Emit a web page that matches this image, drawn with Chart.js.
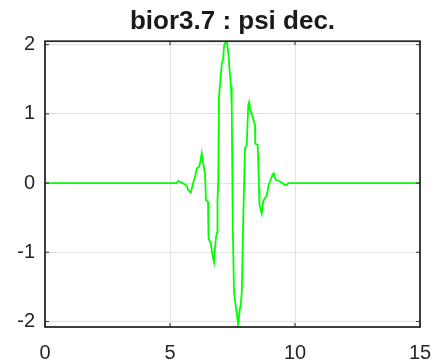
<!DOCTYPE html>
<html>
<head>
<meta charset="utf-8">
<script src="https://cdn.jsdelivr.net/npm/chart.js@4.4.1/dist/chart.umd.min.js"></script>
<style>
  html, body { margin: 0; padding: 0; background: #fff; }
  #wrap { width: 435px; height: 364px; }
</style>
</head>
<body>
<div id="wrap"><canvas id="myChart" width="435" height="364"></canvas></div>
<script>
// psi values
const xs = [0, 5.25, 5.33, 5.45, 5.6, 5.67, 5.73, 5.83, 5.91, 6.02, 6.07, 6.17, 6.22, 6.27,
  6.33, 6.4, 6.44, 6.52, 6.54, 6.63, 6.7, 6.76, 6.8, 6.84, 6.88, 6.9, 6.93, 6.96, 7.07,
  7.13, 7.16, 7.22, 7.28, 7.34, 7.37, 7.44, 7.47, 7.51, 7.56, 7.62, 7.67, 7.73, 7.78,
  7.82, 7.87, 7.93, 8.0, 8.07, 8.13, 8.17, 8.21, 8.27, 8.36, 8.4, 8.41, 8.51, 8.56, 8.58,
  8.67, 8.73, 8.8, 8.87, 8.95, 9.0, 9.1, 9.15, 9.22, 9.35, 9.5, 9.6, 9.67, 9.73, 15];
const ys = [0, 0, 0.03, 0.01, -0.02, -0.04, -0.10, -0.14, -0.02, 0.12, 0.21, 0.24, 0.32, 0.43,
  0.28, 0.14, -0.25, -0.27, -0.80, -0.87, -1.04, -1.14, -0.95, -0.78, -0.72, -0.25, 0.02, 1.25, 1.72,
  1.80, 1.98, 2.03, 2.05, 1.85, 1.68, 1.40, 1.10, -0.60, -1.58, -1.75, -1.88, -2.05, -1.85,
  -1.78, -1.59, -0.50, 0.50, 0.55, 1.13, 1.17, 1.05, 1.00, 0.88, 0.84, 0.57, 0.55, -0.08, -0.32,
  -0.44, -0.26, -0.22, -0.18, -0.02, 0.02, 0.12, 0.14, 0.05, 0.03, 0.0, -0.03, -0.03, 0, 0];
const xTicks = [0, 5, 10, 15];
const yTicks = [-2, -1, 0, 1, 2];
const titleText = "bior3.7 : psi dec.";

const points = xs.map((x, i) => ({ x: x, y: ys[i] }));

// matlab style box with inward ticks
const boxPlugin = {
  id: "box",
  afterDraw(chart) {
    const ctx = chart.ctx;
    const a = chart.chartArea;
    const sx = chart.scales.x, sy = chart.scales.y;
    ctx.save();
    ctx.strokeStyle = "#2b2b2b";
    ctx.lineWidth = 1.8;
    ctx.strokeRect(a.left, a.top, a.right - a.left, a.bottom - a.top);
    ctx.lineWidth = 1;
    ctx.beginPath();
    xTicks.forEach(v => {
      const px = sx.getPixelForValue(v);
      ctx.moveTo(px, a.bottom); ctx.lineTo(px, a.bottom - 4);
      ctx.moveTo(px, a.top); ctx.lineTo(px, a.top + 4);
    });
    yTicks.forEach(v => {
      const py = sy.getPixelForValue(v);
      ctx.moveTo(a.left, py); ctx.lineTo(a.left + 4, py);
      ctx.moveTo(a.right, py); ctx.lineTo(a.right - 4, py);
    });
    ctx.stroke();
    ctx.restore();
  }
};

new Chart(document.getElementById("myChart"), {
  type: "line",
  data: {
    datasets: [{
      data: points,
      borderColor: "#00ff00",
      borderWidth: 1.8,
      pointRadius: 0,
      tension: 0,
      fill: false,
    }],
  },
  options: {
    responsive: false,
    animation: false,
    layout: { padding: { left: 0, right: 15, top: 0, bottom: 0 } },
    plugins: {
      legend: { display: false },
      tooltip: { enabled: false },
      title: {
        display: true,
        fullSize: false,
        text: titleText,
        color: "#1a1a1a",
        font: { family: "Liberation Sans, Arial, sans-serif", size: 26, weight: "bold" },
        padding: { top: 6, bottom: 4 },
      },
    },
    scales: {
      x: {
        type: "linear",
        min: 0,
        max: 15,
        afterBuildTicks: s => { s.ticks = xTicks.map(v => ({ value: v })); },
        afterFit: s => { s.height = 37; s.paddingLeft = 0; s.paddingRight = 0; },
        grid: { color: "#e2e2e2", drawTicks: false },
        border: { display: false },
        ticks: {
          color: "#262626",
          padding: 14,
          maxRotation: 0,
          font: { family: "Liberation Sans, Arial, sans-serif", size: 20 },
        },
      },
      y: {
        type: "linear",
        min: -2.08,
        max: 2.05,
        afterBuildTicks: s => { s.ticks = yTicks.map(v => ({ value: v })); },
        afterFit: s => { s.width = 45; s.paddingTop = 0; s.paddingBottom = 0; },
        grid: { color: "#e2e2e2", drawTicks: false },
        border: { display: false },
        ticks: {
          color: "#262626",
          padding: 10,
          font: { family: "Liberation Sans, Arial, sans-serif", size: 20 },
        },
      },
    },
  },
  plugins: [boxPlugin],
});
</script>
</body>
</html>
